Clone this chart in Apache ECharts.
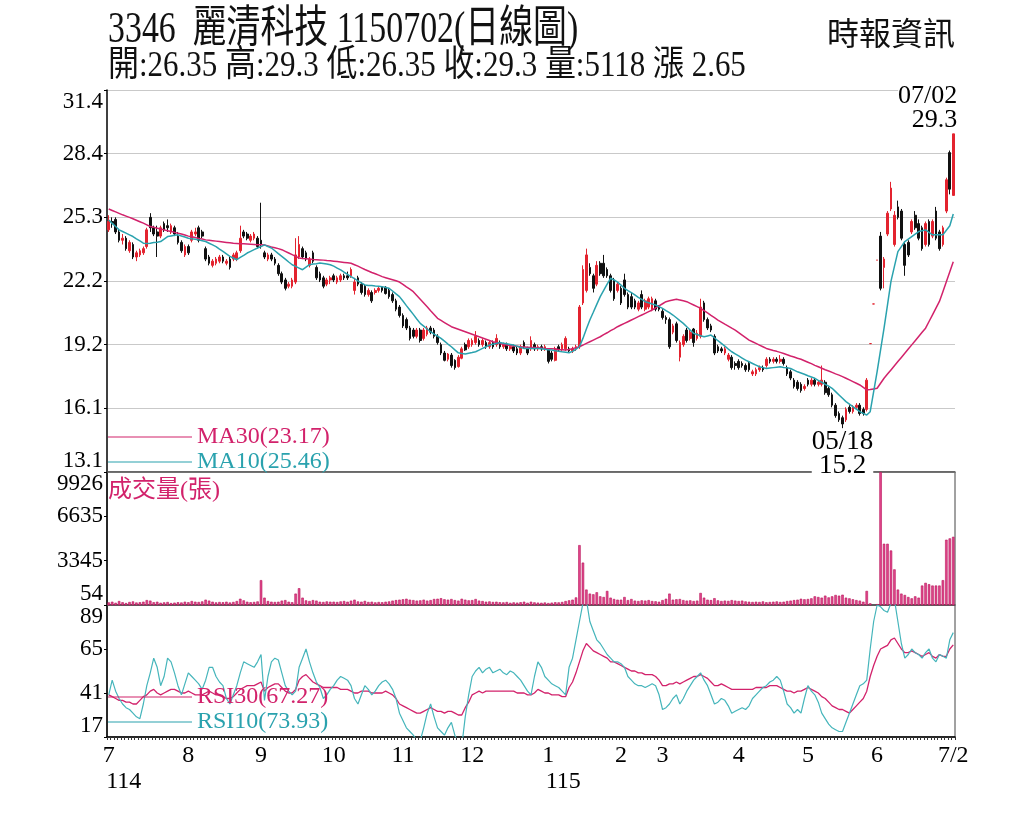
<!DOCTYPE html>
<html>
<head>
<meta charset="utf-8">
<title>3346 麗清科技 日線圖</title>
<script src="https://cdn.jsdelivr.net/npm/echarts@6/dist/echarts.min.js"></script>
<style>
html,body{margin:0;padding:0;background:#fff;}
#chart{width:1024px;height:819px;}
</style>
</head>
<body>
<div id="chart"></div>
<script>
// 交易日 (週一~週五, 扣除休市日)
const holidays = ['2025-09-29','2025-10-06','2025-10-10','2025-10-24','2025-12-25','2026-01-01',
  '2026-02-12','2026-02-13','2026-02-16','2026-02-17','2026-02-18','2026-02-19','2026-02-20','2026-02-27',
  '2026-04-03','2026-04-06','2026-05-01','2026-06-19'];
const firstDay = '2025-07-01';
const lastDay = '2026-07-02';

// K線 [開, 收, 低, 高]
const ohlc = [
  // 7月
  [24.7,25.1,24.6,25.4],[25.1,25.0,24.8,25.3],[25.2,24.6,24.5,25.3],[24.6,24.2,24.1,24.7],[24.2,24.3,24.0,24.5],
  [24.3,23.8,23.7,24.4],[23.7,24.1,23.6,24.2],[24.0,23.4,23.3,24.1],[23.4,23.6,23.2,23.7],[23.5,23.7,23.4,23.8],
  [23.6,23.8,23.5,23.9],[23.9,24.7,23.8,24.8],[25.3,24.8,24.6,25.5],[24.8,24.5,24.4,24.9],[24.6,24.4,23.4,24.9],
  [24.4,24.8,24.3,24.9],[25.0,24.7,24.6,25.1],[24.9,24.8,24.6,25.2],[24.6,24.9,24.5,25.0],[24.8,24.5,24.4,24.9],
  [24.4,24.1,24.0,24.6],[24.1,23.7,23.6,24.2],[23.5,23.9,23.4,24.0],
  // 8月
  [23.9,23.6,23.5,24.0],[24.2,24.6,24.1,24.7],[24.5,24.6,24.4,24.8],[24.8,24.2,24.1,24.9],[24.6,24.4,24.3,24.7],
  [23.8,23.3,23.2,23.9],[23.4,23.1,23.0,23.5],[23.0,23.2,22.9,23.3],[23.1,23.3,23.0,23.4],[23.2,23.4,23.1,23.5],
  [23.4,23.2,23.1,23.5],[23.1,23.2,23.0,23.3],[23.3,22.9,22.8,23.4],[23.3,23.5,23.2,23.6],[23.3,23.6,23.2,23.7],
  [23.7,24.3,23.6,24.9],[24.6,24.4,24.3,24.7],[24.5,24.3,24.2,24.6],[24.2,24.4,24.1,24.5],[24.3,24.5,24.2,24.6],
  [24.3,23.9,23.8,24.4],
  // 9月
  [24.2,24.0,23.8,26.0],[23.6,23.4,23.3,23.7],[23.3,23.5,23.2,23.6],[23.5,23.3,23.2,23.6],[23.3,23.1,23.0,23.4],
  [23.0,22.6,22.5,23.1],[22.6,22.2,22.1,22.7],[22.3,21.9,21.8,22.4],[22.0,22.1,21.9,22.2],[22.0,22.3,21.9,22.4],
  [22.2,23.5,22.1,24.3],[23.4,24.0,23.3,24.4],[23.8,23.4,23.3,23.9],[23.6,23.3,23.2,23.7],[23.0,23.3,22.9,23.4],
  [23.6,23.2,23.1,23.7],[22.9,22.4,22.3,23.0],[22.6,22.3,22.2,22.7],[22.4,22.0,21.9,22.5],[22.1,22.3,22.0,22.4],
  [22.3,22.4,22.1,22.5],
  // 10月
  [22.5,22.3,22.2,22.6],[22.2,22.4,22.1,22.5],[22.3,22.5,22.2,22.6],[22.5,22.4,22.3,22.6],[22.5,22.4,22.3,22.7],
  [22.5,22.8,22.4,22.9],[21.8,22.2,21.6,22.4],[22.4,22.1,22.0,22.5],[22.1,21.7,21.6,22.2],[22.0,21.6,21.5,22.1],
  [21.6,21.8,21.5,21.9],[21.7,21.3,21.2,21.8],[21.7,21.8,21.6,21.9],[21.8,21.9,21.7,22.0],[21.95,21.8,21.7,22.0],
  [21.95,21.65,21.6,22.0],[21.8,21.5,21.4,21.9],[21.6,21.3,21.2,21.7],[21.3,20.9,20.8,21.4],[21.0,20.6,20.5,21.1],
  // 11月
  [20.6,20.1,20.0,20.7],[20.4,20.0,19.9,20.5],[20.0,19.5,19.4,20.1],[19.9,19.6,19.5,20.0],[19.6,19.9,19.5,20.0],
  [19.9,19.4,19.3,20.0],[19.5,19.9,19.4,20.0],[19.7,20.0,19.6,20.1],[20.0,19.8,19.7,20.1],[19.9,19.6,19.5,20.0],
  [19.6,19.3,19.2,19.7],[19.2,18.8,18.7,19.3],[18.8,18.45,18.4,18.9],[18.5,18.75,18.4,18.8],[18.7,18.2,18.1,18.8],
  [18.45,18.1,18.0,18.5],[18.15,18.6,18.1,18.7],[18.55,19.0,18.5,19.1],[19.2,18.95,18.9,19.3],[19.1,19.4,19.0,19.5],
  // 12月
  [19.2,19.4,19.1,19.5],[19.3,19.6,19.2,19.85],[19.4,19.2,19.1,19.5],[19.2,19.4,19.1,19.5],[19.3,19.1,19.0,19.4],
  [19.1,19.3,19.0,19.4],[19.3,19.1,19.0,19.4],[19.2,19.5,19.1,19.7],[19.3,19.1,19.0,19.4],[19.1,19.2,19.0,19.3],
  [19.2,19.0,18.9,19.3],[19.0,19.1,18.9,19.2],[19.1,18.9,18.8,19.2],[19.0,18.8,18.7,19.1],[18.8,19.1,18.7,19.2],
  [19.3,19.1,19.0,19.4],[19.0,18.8,18.7,19.1],[19.0,19.4,18.9,19.6],[19.2,19.0,18.9,19.3],[19.0,19.1,18.9,19.2],
  [19.1,19.0,18.9,19.2],[19.0,19.1,18.9,19.2],
  // 1月
  [18.95,18.4,18.3,19.0],[18.8,18.5,18.4,18.9],[18.45,19.0,18.4,19.1],[19.1,18.95,18.9,19.2],[19.0,19.2,18.9,19.3],
  [19.0,19.5,18.9,19.6],[19.0,18.9,18.8,19.1],[18.9,19.0,18.8,19.1],[19.0,19.1,18.9,19.2],[19.1,21.0,19.0,21.1],
  [21.2,22.8,21.1,23.0],[21.8,23.5,21.7,23.8],[22.9,22.6,22.5,23.1],[22.5,21.9,21.7,22.6],[22.1,23.0,22.0,23.2],
  [23.1,22.6,22.5,23.2],[23.1,22.5,22.4,23.5],[22.8,22.5,22.4,22.9],[22.5,21.8,21.7,22.6],[22.3,21.4,21.3,22.4],
  [21.8,22.1,21.7,22.2],
  // 2月
  [21.9,21.2,21.1,22.0],[22.3,21.6,21.5,22.6],[21.6,21.0,20.9,21.7],[21.5,21.0,20.9,21.7],[21.3,21.0,20.9,21.4],
  [20.9,21.2,20.8,21.3],[21.6,21.0,20.9,21.8],[20.9,21.3,20.8,21.4],[21.0,21.4,20.9,21.5],[20.9,21.4,20.8,21.5],
  [21.3,20.9,20.8,21.4],[21.0,20.9,20.8,21.1],
  // 3月
  [20.8,20.5,20.4,20.9],[20.5,20.4,20.2,20.6],[20.4,19.1,19.0,20.5],[19.8,20.1,19.7,20.2],[20.2,19.4,19.3,20.3],
  [18.6,19.3,18.4,19.4],[19.2,19.6,19.1,19.7],[19.9,19.4,19.3,20.0],[19.5,19.8,19.4,19.9],[19.95,19.3,19.1,20.0],
  [19.5,19.75,19.4,19.9],[19.6,21.0,19.5,21.4],[21.2,20.4,20.3,21.3],[20.4,20.0,19.9,20.5],[20.1,19.9,19.8,20.2],
  [19.6,18.8,18.7,19.7],[19.1,18.9,18.8,19.2],[19.0,18.9,18.8,19.1],[18.8,19.0,18.7,19.1],[18.5,18.7,18.4,18.8],
  [18.6,18.1,18.0,18.7],[18.3,18.2,18.0,18.4],
  // 4月
  [18.4,18.1,18.0,18.5],[18.3,18.2,18.1,18.4],[18.2,18.0,17.9,18.3],[18.3,18.0,17.9,18.4],[17.8,17.9,17.7,18.0],
  [17.8,18.0,17.7,18.1],[18.0,18.1,17.9,18.2],[18.1,18.0,17.9,18.2],[18.2,18.5,18.1,18.6],[18.5,18.4,18.3,18.6],
  [18.4,18.5,18.3,18.6],[18.5,18.4,18.3,18.6],[18.4,18.5,18.3,18.7],[18.5,18.3,18.2,18.6],[18.1,17.8,17.7,18.2],
  [17.9,17.6,17.5,18.0],[17.5,17.2,17.1,17.6],[17.4,17.1,17.0,17.5],[17.3,17.0,16.9,17.4],[17.1,17.2,17.0,17.3],
  // 5月
  [17.5,17.3,17.2,17.6],[17.3,17.5,17.2,17.6],[17.5,17.3,17.2,17.6],[17.3,17.4,17.2,17.5],[17.3,17.5,17.2,18.2],
  [17.4,16.9,16.8,17.5],[17.1,16.8,16.7,17.2],[16.8,16.3,16.2,16.9],[16.3,15.8,15.7,16.4],[15.9,15.6,15.5,16.0],
  [15.7,15.4,15.2,15.8],[15.6,16.1,15.5,16.2],[16.2,16.0,15.9,16.3],[16.0,16.2,15.9,16.3],[16.2,16.3,16.1,16.4],
  [16.3,15.9,15.8,16.4],[16.1,15.9,15.8,16.2],[16.1,17.5,16.0,17.6],[19.25,19.25,19.25,19.25],[21.15,21.15,21.15,21.15],
  // 6月
  [23.25,23.25,23.25,23.25],[24.4,21.9,21.8,24.6],[22.9,23.3,21.9,23.4],[24.5,25.5,24.4,25.6],[25.7,26.7,25.6,27.0],
  [24.0,25.4,23.9,25.6],[25.8,25.3,25.2,26.1],[25.6,24.3,24.2,25.7],[24.0,23.0,22.5,24.1],[24.1,23.5,23.4,24.2],
  [24.6,25.1,24.5,25.2],[25.4,24.8,24.7,25.6],[25.0,24.3,24.2,25.2],[24.8,23.8,23.7,24.9],[24.0,25.0,23.9,25.1],
  [25.1,24.0,23.9,25.2],[24.4,25.1,24.3,25.2],[25.6,24.3,24.2,25.8],[24.6,23.8,23.7,24.7],[24.0,24.8,23.9,24.9],
  [25.6,27.1,25.5,27.2],
  // 7月
  [28.4,26.65,26.4,28.5],[26.35,29.3,26.35,29.3]
];

// 成交量(張)
const volumes = [
  250,300,220,350,260,200,280,320,240,260,300,420,380,260,300,220,250,280,200,230,260,240,300,
  260,350,300,280,320,450,380,300,250,280,260,300,240,280,350,520,400,300,260,280,320,
  1900,600,350,300,280,300,380,420,300,260,900,1300,600,400,350,420,380,300,280,320,300,
  300,280,320,350,300,380,450,320,300,360,280,300,250,280,260,300,320,380,420,450,
  480,520,450,420,380,400,450,380,420,500,520,560,480,450,500,420,380,520,450,400,
  420,500,380,350,300,320,280,300,260,250,280,220,250,230,260,300,220,300,250,230,220,240,
  200,230,260,250,280,350,400,450,620,4500,3200,1200,900,850,1000,700,650,1100,600,500,450,
  450,650,420,500,380,350,400,380,420,350,330,300,
  420,520,900,450,480,500,420,380,400,350,380,950,600,450,420,560,400,350,380,360,420,380,
  350,380,320,300,280,300,280,320,260,280,300,320,280,300,350,380,420,450,520,480,
  500,550,700,650,600,750,620,700,800,750,820,600,550,480,420,380,300,1100,180,54,
  120,9926,4600,4600,4100,2700,1200,900,800,650,550,700,600,1500,1700,1600,1500,1500,1500,1900,4900,
  5000,5118
];

const ma30 = [
  25.70,25.63,25.56,25.49,25.42,25.36,25.30,25.23,25.16,25.09,25.02,24.94,24.86,
  24.82,24.78,24.74,24.70,24.66,24.62,24.58,24.54,24.50,24.45,24.40,
  24.37,24.33,24.29,24.26,24.22,
  24.20,24.18,24.16,24.14,24.12,24.10,24.08,24.06,
  24.05,24.04,24.03,24.02,24.01,24.00,23.99,23.99,23.98,
  23.93,23.88,23.84,23.80,23.75,
  23.67,23.59,23.51,23.43,23.35,
  23.33,23.32,23.30,23.28,23.27,
  23.26,23.25,23.23,23.22,23.20,
  23.18,23.16,23.14,23.12,23.10,
  23.03,22.96,22.88,22.80,
  22.73,22.66,22.60,22.53,22.46,
  22.41,22.36,22.31,22.26,22.20,
  22.09,21.97,21.86,21.74,
  21.56,21.38,21.20,21.02,
  20.83,20.65,20.46,
  20.36,20.26,20.16,20.06,
  20.00,19.94,19.88,19.82,
  19.76,19.70,19.64,19.58,
  19.52,19.46,19.40,19.34,
  19.30,19.26,19.22,19.18,
  19.16,19.14,19.12,19.10,
  19.09,19.08,19.07,19.06,19.05,19.04,19.02,
  19.01,19.00,18.99,18.97,18.96,18.94,
  18.97,19.01,19.05,19.10,
  19.18,19.26,19.34,19.42,19.50,19.58,
  19.68,19.77,19.87,19.96,20.06,
  20.14,20.22,20.30,20.38,20.46,
  20.54,20.62,20.70,20.78,20.86,
  20.96,21.06,21.16,21.26,
  21.30,21.34,21.38,
  21.34,21.30,21.26,
  21.18,21.10,21.02,20.94,
  20.83,20.72,20.60,20.49,20.38,
  20.28,20.18,20.09,19.99,19.90,
  19.78,19.66,19.54,19.42,
  19.34,19.26,19.18,19.10,19.02,
  18.97,18.92,18.88,18.83,18.78,
  18.72,18.66,18.61,18.55,18.50,
  18.43,18.36,18.29,18.21,18.14,18.07,
  18.00,17.94,17.87,17.80,17.74,17.67,
  17.59,17.51,17.43,17.35,17.27,
  17.15,17.03,
  17.05,17.08,17.11,
  17.35,17.59,
  17.79,17.99,18.19,18.39,
  18.59,18.79,18.99,19.19,
  19.39,19.59,19.79,19.99,
  20.31,20.63,20.95,21.27,
  21.74,22.21,22.69,23.17
];

const ma10 = [
  25.17,25.01,24.86,24.70, 24.62,24.54,24.46,24.38, 24.27,24.17,24.06, 24.05,24.06,
  24.09,24.11,24.14, 24.26,24.38, 24.41,24.44,24.46, 24.41,24.36,24.30, 24.27,24.25,24.22,
  24.18,24.14, 24.06,23.98,23.90, 23.78,23.67,23.55,23.43, 23.35,23.27, 23.38,23.48,23.59,
  23.67,23.75,23.83, 23.90,23.98, 23.90,23.83, 23.70,23.56,23.43, 23.30,23.16,23.03,
  22.95,22.87,22.79, 22.91,23.03, 23.06,23.08,23.11, 23.09,23.06,23.03, 22.96,22.87,22.78,
  22.67,22.57,22.46, 22.36,22.26,22.16,22.06, 22.04,22.03,22.01,22.00,21.98, 21.94,21.90,
  21.77,21.63,21.50, 21.29,21.07,20.86, 20.65,20.43,20.22, 20.09,19.95,19.82, 19.71,19.61,19.50,
  19.37,19.23,19.10, 18.95,18.81, 18.78,18.75, 18.79,18.82,18.86, 18.94,19.02,19.10,19.18,
  19.22,19.26,19.30, 19.27,19.24,19.21,19.18, 19.12,19.07,19.02, 19.02,19.02,19.02,19.02,
  19.00,18.98,18.96,18.94, 18.91,18.89,18.86,18.84,18.81, 18.88,18.98,19.10, 19.50,19.95,20.38,
  20.75,21.13,21.50, 21.80,22.10,22.38, 22.30,22.20, 22.05,21.90, 21.79,21.69,21.58,
  21.47,21.37,21.26, 21.21,21.15,21.10, 21.02,20.94, 20.83,20.73,20.62, 20.49,20.35,20.22,
  20.06,19.90,19.74, 19.69,19.63,19.58, 19.62,19.66, 19.53,19.39,19.26, 19.13,18.99,18.86,
  18.76,18.66,18.56,18.46, 18.38,18.30,18.22,18.14, 18.10,18.06, 18.08,18.10,18.12,18.14,
  18.11,18.09,18.06, 17.98,17.90, 17.84,17.78,17.71,17.65,17.59, 17.49,17.40,17.30,17.21,17.11,
  16.95,16.79,16.63,16.47, 16.35,16.23,16.11,15.99, 15.91,15.83, 15.99, 16.95,17.91,
  18.95,19.99, 21.11,22.23, 22.95,23.66, 23.90,24.14, 24.26,24.38, 24.50,24.62, 24.66,24.70,
  24.58,24.46, 24.46,24.46,24.46, 24.68,24.90,25.46
];

const rsi10 = [
  40,48,42,38,35,33,32,30,28,27,
  35,45,52,60,55,45,50,60,58,52,
  45,40,46,52,50,48,46,43,48,55,
  55,50,47,45,38,35,40,45,52,58,
  57,56,55,58,62,37,50,58,60,59,
  52,45,42,40,42,55,60,65,58,52,
  47,44,38,40,43,45,48,50,49,48,
  45,38,35,40,45,43,40,42,45,47,
  48,46,43,38,30,26,22,20,18,15,
  15,22,30,35,28,22,20,18,22,25,
  18,14,12,28,40,50,53,55,52,54,
  55,52,53,54,52,51,53,52,50,48,
  45,42,40,50,58,55,50,48,46,45,
  44,42,40,55,60,70,80,90,92,80,
  75,70,68,65,62,60,58,58,57,55,
  50,48,46,45,45,44,45,46,45,40,
  32,33,35,38,40,35,38,42,45,48,
  50,52,48,45,40,35,36,38,37,34,
  30,31,32,33,32,34,38,40,42,44,
  45,47,48,50,48,42,35,33,30,32,
  30,38,45,42,40,36,30,27,24,22,
  21,20,20,25,30,35,40,45,46,48,
  65,80,89,88,86,85,90,92,80,68,
  60,62,65,63,62,60,63,65,60,58,
  62,61,60,70,73.93
];

const rsi30 = [
  40,39,38,37,37,36,36,35,35,37,
  39,40,42,43,41,40,41,42,43,43,
  42,41,41,42,41,40,40,40,41,42,
  41,40,40,39,38,38,39,41,43,44,
  45,45,45,46,47,42,44,45,46,46,
  44,42,41,41,43,48,50,51,49,47,
  46,45,44,44,44,44,44,43,43,43,
  42,41,41,42,42,42,41,41,41,41,
  42,41,40,38,35,34,33,32,31,30,
  30,31,32,33,32,31,31,30,31,31,
  30,29,29,33,36,40,41,42,41,42,
  42,42,42,42,42,42,42,42,41,41,
  41,40,40,41,43,42,41,41,40,40,
  40,39,39,44,47,52,58,64,68,66,
  64,63,62,61,60,58,58,57,56,55,
  54,53,53,52,52,51,51,51,50,48,
  45,45,46,46,47,46,47,48,49,50,
  50,51,50,49,47,45,45,46,45,44,
  43,43,43,43,43,43,43,44,44,44,
  44,45,45,45,44,43,42,42,41,42,
  42,43,44,43,42,41,39,38,36,34,
  33,32,32,31,30,32,34,36,38,42,
  50,56,61,65,66,67,70,71,68,65,
  63,63,64,63,62,61,62,63,61,60,
  62,61,61,65,67.27
];

// 座標刻度
const priceTicks = [13.1, 16.15, 19.2, 22.25, 25.3, 28.35, 31.4];
const priceTickLabels = ['13.1', '16.1', '19.2', '22.2', '25.3', '28.4', '31.4'];
const volTicks = [54, 3345, 6635, 9926];
const rsiTicks = [17, 41, 65, 89];

const stockCode = '3346';
const stockName = '麗清科技';
const source = '時報資訊';

const RED = '#e3232f';
const PINK = '#d2226b';
const TEAL = '#2aa2ae';
const FONT = '"Liberation Serif", "Noto Sans CJK TC", serif';

function tradingDays(from, to) {
  const out = [];
  const d = new Date(from + 'T00:00:00Z');
  const end = new Date(to + 'T00:00:00Z');
  while (d <= end) {
    const s = d.toISOString().slice(0, 10);
    const wd = d.getUTCDay();
    if (wd !== 0 && wd !== 6 && holidays.indexOf(s) < 0) out.push(s);
    d.setUTCDate(d.getUTCDate() + 1);
  }
  return out;
}

const dates = tradingDays(firstDay, lastDay);
const n = dates.length;
[ohlc, volumes, ma30, ma10, rsi10, rsi30].forEach((a, k) => {
  if (a.length !== n) console.error('length mismatch', k, a.length, n);
});

const last = n - 1;
function mmdd(s) { return s.slice(5, 7) + '/' + s.slice(8, 10); }
function nearest(ticks, v) {
  let best = 0;
  ticks.forEach((t, i) => { if (Math.abs(t - v) < Math.abs(ticks[best] - v)) best = i; });
  return best;
}

// 月份標籤位置
const monthStart = {};
dates.forEach((d, i) => {
  if ((i === 0 || d.slice(0, 7) !== dates[i - 1].slice(0, 7)) && last - i > 3) monthStart[i] = true;
});

let hiIdx = 0, loIdx = 0;
ohlc.forEach((k, i) => {
  if (k[3] > ohlc[hiIdx][3]) hiIdx = i;
  if (k[2] < ohlc[loIdx][2]) loIdx = i;
});

const lk = ohlc[last];
const change = (lk[1] - ohlc[last - 1][1]).toFixed(2);
const rocDate = (Number(dates[last].slice(0, 4)) - 1911) + dates[last].slice(5, 7) + dates[last].slice(8, 10);
const titleText = stockCode + '  ' + stockName + ' ' + rocDate + '(日線圖)';
const quoteText = '開:' + lk[0] + ' 高:' + lk[3] + ' 低:' + lk[2] + ' 收:' + lk[1] +
  ' 量:' + volumes[last] + ' 漲 ' + change;

const lastVals = { MA30: ma30[last], MA10: ma10[last], RSI30: rsi30[last], RSI10: rsi10[last] };

const chart = echarts.init(document.getElementById('chart'));

const gridLeft = 107, gridRight = 69;

function catAxis(idx, extra) {
  return Object.assign({
    type: 'category', gridIndex: idx, data: dates, boundaryGap: true,
    axisLine: { lineStyle: { color: '#555', width: 1.5 } },
    axisTick: { show: false }, axisLabel: { show: false }, splitLine: { show: false }
  }, extra || {});
}

function valAxis(idx, min, max, ticks, fmt, split) {
  return {
    type: 'value', gridIndex: idx, min: min, max: max, position: 'left',
    axisLine: { show: true, lineStyle: { color: '#000', width: 1.5 } },
    axisTick: { show: true, customValues: ticks, length: 3, lineStyle: { color: '#000' } },
    axisLabel: {
      customValues: ticks, formatter: fmt, color: '#000', fontFamily: FONT, fontSize: 23, margin: 4,
      verticalAlignMinLabel: 'bottom', verticalAlignMaxLabel: 'top'
    },
    splitLine: { show: !!split, lineStyle: { color: '#c9c9c9', width: 1 } }
  };
}

const option = {
  backgroundColor: '#fff',
  animation: false,
  graphic: [
    { type: 'text', x: 108, y: 30, scaleX: 0.77,
      style: { text: titleText, font: '44px ' + FONT, fill: '#111', verticalAlign: 'middle' } },
    { type: 'text', x: 108, y: 67, scaleX: 0.86,
      style: { text: quoteText, font: '36px ' + FONT, fill: '#111', verticalAlign: 'middle' } },
    { type: 'text', x: 955, y: 37,
      style: { text: source, font: '32px ' + FONT, fill: '#111', align: 'right', verticalAlign: 'middle' } }
  ],
  title: {
    text: '成交量(張)', left: 108, top: 479, padding: 0,
    textStyle: { color: PINK, fontSize: 24, fontWeight: 'normal', fontFamily: FONT }
  },
  legend: [
    {
      data: [{ name: 'MA30', textStyle: { color: PINK } }, { name: 'MA10', textStyle: { color: TEAL } }],
      orient: 'vertical', left: 108, top: 425, icon: 'rect', itemWidth: 84, itemHeight: 1, itemGap: 1,
      selectedMode: false, padding: 0,
      textStyle: { fontFamily: FONT, fontSize: 24 },
      formatter: name => name + '(' + lastVals[name].toFixed(2) + ')'
    },
    {
      data: [{ name: 'RSI30', textStyle: { color: PINK } }, { name: 'RSI10', textStyle: { color: TEAL } }],
      orient: 'vertical', left: 108, top: 685, icon: 'rect', itemWidth: 84, itemHeight: 1, itemGap: 1,
      selectedMode: false, padding: 0,
      textStyle: { fontFamily: FONT, fontSize: 24 },
      formatter: name => name + '(' + lastVals[name].toFixed(2) + ')'
    }
  ],
  grid: [
    { left: gridLeft, right: gridRight, top: 90, height: 382 },
    { left: gridLeft, right: gridRight, top: 472, height: 133, show: true, borderColor: '#444', borderWidth: 1 },
    { left: gridLeft, right: gridRight, top: 605, height: 132, show: true, borderColor: '#444', borderWidth: 1 }
  ],
  xAxis: [
    catAxis(0),
    catAxis(1),
    catAxis(2, {
      axisLine: { lineStyle: { color: '#000', width: 1.5 } },
      axisTick: { show: true, interval: 0, length: 3, lineStyle: { color: '#333' } },
      axisLabel: {
        show: true, align: 'center', margin: 6, color: '#000', fontFamily: FONT, fontSize: 24, lineHeight: 26,
        interval: i => !!monthStart[i] || i === last,
        formatter: (v, i) => {
          const m = Number(v.slice(5, 7));
          if (i === last) return '{m|' + m + '/' + Number(v.slice(8, 10)) + '}';
          if (i === 0 || m === 1) return '{m|' + m + '}\n{y|' + (Number(v.slice(0, 4)) - 1911) + '}';
          return '{m|' + m + '}';
        },
        rich: {
          m: { fontFamily: FONT, fontSize: 24, color: '#000', lineHeight: 26 },
          y: { fontFamily: FONT, fontSize: 24, color: '#000', lineHeight: 26, padding: [0, 0, 0, 30] }
        }
      }
    })
  ],
  yAxis: [
    valAxis(0, priceTicks[0], priceTicks[priceTicks.length - 1], priceTicks,
      v => priceTickLabels[nearest(priceTicks, v)], true),
    valAxis(1, volTicks[0], volTicks[volTicks.length - 1], volTicks, v => String(Math.round(v)), false),
    valAxis(2, rsiTicks[0], rsiTicks[rsiTicks.length - 1], rsiTicks, v => String(Math.round(v)), false)
  ],
  series: [
    {
      name: 'K', type: 'candlestick', xAxisIndex: 0, yAxisIndex: 0, data: ohlc, barWidth: '62%',
      itemStyle: { color: RED, color0: '#111', borderColor: RED, borderColor0: '#111', borderWidth: 1 },
      markPoint: {
        symbol: 'circle', symbolSize: 0, animation: false,
        label: {
          color: '#000', fontFamily: FONT, fontSize: 26, lineHeight: 24, backgroundColor: '#fff',
          formatter: p => p.data.labelText
        },
        data: [
          { coord: [dates[hiIdx], ohlc[hiIdx][3]], labelText: mmdd(dates[hiIdx]) + '\n' + ohlc[hiIdx][3],
            label: { position: 'top', distance: 2, align: 'right', offset: [4, 0] } },
          { coord: [dates[loIdx], ohlc[loIdx][2]], labelText: mmdd(dates[loIdx]) + '\n' + ohlc[loIdx][2],
            label: { position: 'bottom', distance: 2, fontSize: 27 } }
        ]
      }
    },
    { name: 'MA30', type: 'line', xAxisIndex: 0, yAxisIndex: 0, data: ma30, symbol: 'none',
      color: PINK, lineStyle: { color: PINK, width: 1.5 } },
    { name: 'MA10', type: 'line', xAxisIndex: 0, yAxisIndex: 0, data: ma10, symbol: 'none',
      color: TEAL, lineStyle: { color: TEAL, width: 1.5 } },
    { name: '成交量', type: 'bar', xAxisIndex: 1, yAxisIndex: 1, data: volumes, barWidth: '72%',
      itemStyle: { color: '#e0468c', borderColor: '#b8155a', borderWidth: 0.6 } },
    { name: 'RSI30', type: 'line', xAxisIndex: 2, yAxisIndex: 2, data: rsi30, symbol: 'none',
      color: PINK, lineStyle: { color: PINK, width: 1.3 } },
    { name: 'RSI10', type: 'line', xAxisIndex: 2, yAxisIndex: 2, data: rsi10, symbol: 'none',
      color: TEAL, lineStyle: { color: '#45b5bb', width: 1.2 } }
  ]
};

chart.setOption(option);
</script>
</body>
</html>
